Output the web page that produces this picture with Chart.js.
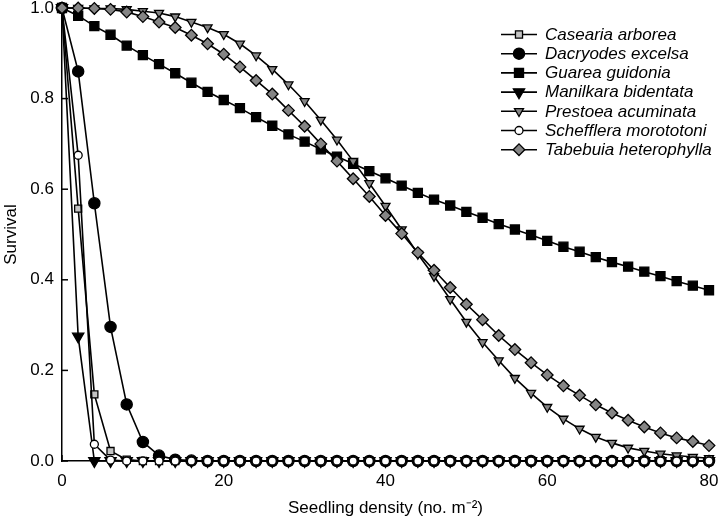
<!DOCTYPE html>
<html><head><meta charset="utf-8">
<script src="https://cdn.jsdelivr.net/npm/chart.js@4"></script>
<style>html,body{margin:0;padding:0;background:#fff}</style>
</head><body>
<canvas id="c" width="720" height="519" style="display:block;width:720px;height:519px"></canvas>
<script>
const density = [0,2,4,6,8,10,12,14,16,18,20,22,24,26,28,30,32,34,36,38,40,42,44,46,48,50,52,54,56,58,60,62,64,66,68,70,72,74,76,78,80];
const xTicks = [0,20,40,60,80];
const yTicks = [0,0.2,0.4,0.6,0.8,1.0];
const speciesNames = ['Casearia arborea','Dacryodes excelsa','Guarea guidonia','Manilkara bidentata','Prestoea acuminata','Schefflera morototoni','Tabebuia heterophylla'];

const casearia   = [1.0,0.557,0.147,0.022,0.003,0,0,0,0,0,0,0,0,0,0,0,0,0,0,0,0,0,0,0,0,0,0,0,0,0,0,0,0,0,0,0,0,0,0,0,0];
const dacryodes  = [1.0,0.860,0.569,0.296,0.125,0.042,0.012,0.003,0.001,0,0,0,0,0,0,0,0,0,0,0,0,0,0,0,0,0,0,0,0,0,0,0,0,0,0,0,0,0,0,0,0];
const guarea     = [1.0,0.983,0.960,0.941,0.917,0.896,0.876,0.856,0.835,0.815,0.797,0.779,0.759,0.740,0.721,0.705,0.688,0.672,0.656,0.640,0.624,0.608,0.592,0.577,0.564,0.550,0.537,0.523,0.511,0.499,0.486,0.473,0.462,0.450,0.439,0.429,0.418,0.408,0.397,0.387,0.377];
const manilkara  = [1.0,0.275,0,0,0,0,0,0,0,0,0,0,0,0,0,0,0,0,0,0,0,0,0,0,0,0,0,0,0,0,0,0,0,0,0,0,0,0,0,0,0];
const prestoea   = [1.0,1.0,0.999,0.999,0.997,0.993,0.989,0.981,0.969,0.957,0.942,0.921,0.895,0.865,0.831,0.794,0.753,0.709,0.662,0.613,0.563,0.511,0.457,0.408,0.357,0.307,0.262,0.222,0.183,0.150,0.119,0.093,0.071,0.053,0.040,0.029,0.022,0.016,0.012,0.009,0.006];
const schefflera = [1.0,0.675,0.037,0.002,0,0,0,0,0,0,0,0,0,0,0,0,0,0,0,0,0,0,0,0,0,0,0,0,0,0,0,0,0,0,0,0,0,0,0,0,0];
const tabebuia   = [1.0,1.0,0.999,0.997,0.991,0.981,0.969,0.957,0.940,0.921,0.898,0.870,0.840,0.810,0.774,0.739,0.700,0.662,0.623,0.584,0.542,0.502,0.460,0.421,0.383,0.346,0.312,0.277,0.246,0.217,0.190,0.166,0.145,0.124,0.106,0.090,0.075,0.062,0.051,0.043,0.034];

const seriesValues = [casearia,dacryodes,guarea,manilkara,prestoea,schefflera,tabebuia];
const markerStyles = [
  {pointStyle:'rect',     radius:5.0, rotation:0,   fill:'#c4c4c4'},
  {pointStyle:'circle',   radius:5.6, rotation:0,   fill:'#000000'},
  {pointStyle:'rect',     radius:6.4, rotation:0,   fill:'#000000'},
  {pointStyle:'triangle', radius:6.5, rotation:180, fill:'#000000'},
  {pointStyle:'triangle', radius:5.2, rotation:180, fill:'#858585'},
  {pointStyle:'circle',   radius:4.0, rotation:0,   fill:'#ffffff'},
  {pointStyle:'rectRot',  radius:5.8, rotation:0,   fill:'#858585'}
];

const FONT = "'Liberation Sans', Arial, Helvetica, sans-serif";
const n = speciesNames.length;
const datasets = speciesNames.map((name,i)=>({
  label: name,
  data: density.map((x,k)=>({x:x, y:seriesValues[i][k]})),
  borderColor:'#000', borderWidth:1.6,
  pointStyle: markerStyles[i].pointStyle,
  pointRadius: markerStyles[i].radius,
  pointHoverRadius: markerStyles[i].radius,
  pointRotation: markerStyles[i].rotation,
  pointBackgroundColor: markerStyles[i].fill,
  pointBorderColor:'#000', pointBorderWidth:1.3,
  tension:0, fill:false, clip:false,
  order: n - i
}));

const tickMarks = {
  id:'tickMarks',
  beforeDatasetsDraw(chart){
    const ctx = chart.ctx, xs = chart.scales.x, ys = chart.scales.y, a = chart.chartArea;
    ctx.save(); ctx.strokeStyle='#000'; ctx.lineWidth=1.5;
    yTicks.forEach(v=>{ const y = ys.getPixelForValue(v); ctx.beginPath(); ctx.moveTo(a.left, y); ctx.lineTo(a.left+6, y); ctx.stroke(); });
    xTicks.forEach(v=>{ const x = xs.getPixelForValue(v); ctx.beginPath(); ctx.moveTo(x, a.bottom); ctx.lineTo(x, a.bottom-6); ctx.stroke(); });
    ctx.restore();
  }
};

const legendPlugin = {
  id:'customLegend',
  afterDraw(chart){
    const ctx = chart.ctx;
    const x0 = 501, x1 = 537, xm = 519, tx = 545, y0 = 34.5, dy = 19.2;
    ctx.save();
    speciesNames.forEach((name,i)=>{
      const y = y0 + i*dy;
      ctx.strokeStyle='#000'; ctx.lineWidth=1.6;
      ctx.beginPath(); ctx.moveTo(x0,y); ctx.lineTo(x1,y); ctx.stroke();
      const m = markerStyles[i];
      ctx.fillStyle = m.fill; ctx.strokeStyle='#000'; ctx.lineWidth=1.3;
      Chart.helpers.drawPoint(ctx, {pointStyle:m.pointStyle, radius:m.radius, rotation:m.rotation, borderWidth:1.3}, xm, y);
      ctx.fillStyle='#000'; ctx.font = "italic 17px " + FONT; ctx.textBaseline='middle'; ctx.textAlign='left';
      ctx.fillText(name, tx, y+0.5);
    });
    ctx.restore();
  }
};

new Chart(document.getElementById('c'), {
  type:'line',
  data:{datasets},
  plugins:[tickMarks, legendPlugin],
  options:{
    responsive:false, animation:false, devicePixelRatio:1,
    layout:{padding:{top:8, right:11, left:0, bottom:0}},
    plugins:{legend:{display:false}, tooltip:{enabled:false}},
    scales:{
      x:{type:'linear', min:0, max:80,
        afterFit(s){ s.height = 58; s.paddingLeft = 0; s.paddingRight = 0; },
        afterBuildTicks(s){ s.ticks = xTicks.map(v=>({value:v})); },
        grid:{display:true, drawOnChartArea:false, drawTicks:false},
        border:{color:'#000', width:1.5},
        ticks:{color:'#000', font:{family:FONT, size:17}, padding:10, maxRotation:0,
          callback:(v)=>String(v)},
        title:{display:true, text:'Seedling density (no. m\u207B\u00B2)', color:'#000', font:{family:FONT, size:17}, padding:{top:0,bottom:0}}
      },
      y:{type:'linear', min:0, max:1,
        afterFit(s){ s.width = 62; s.paddingTop = 0; s.paddingBottom = 0; },
        afterBuildTicks(s){ s.ticks = yTicks.map(v=>({value:v})); },
        grid:{display:true, drawOnChartArea:false, drawTicks:false},
        border:{color:'#000', width:1.5},
        ticks:{color:'#000', font:{family:FONT, size:17}, padding:8,
          callback:(v)=>Number(v).toFixed(1)},
        title:{display:true, text:'Survival', color:'#000', font:{family:FONT, size:17}, padding:{top:1,bottom:0}}
      }
    }
  }
});
</script>
</body></html>
